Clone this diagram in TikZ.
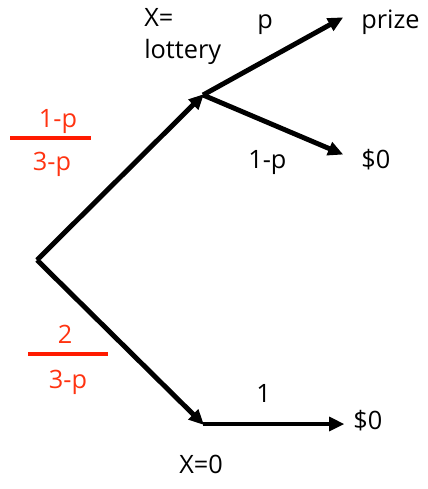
\documentclass[tikz,border=0pt]{standalone}
\usepackage{fontspec}
\setmainfont{Open Sans}
\usepackage{xcolor}
\definecolor{ink}{HTML}{000000}
\definecolor{prob}{HTML}{FF3311}
\definecolor{bar}{HTML}{FF1A00}
\usetikzlibrary{arrows.meta}
\tikzset{
  every picture/.style={font=\fontsize{18}{23}\selectfont},
  branch/.style={-{Triangle[length=3.8mm, width=3.4mm]}, draw=ink, line width=3.5pt, shorten >=-1pt},
  label/.style={text=ink, inner sep=0pt, anchor=base west},
  frac/.style={text=prob, inner sep=0pt, anchor=base},
  fracbar/.style={draw=bar, line width=2.2pt},
}

\begin{document}
\begin{tikzpicture}[x=0.025cm, y=-0.025cm]
  \useasboundingbox (0,0) rectangle (428,489);
  % branching points and arrow tips
  \coordinate (root) at (37,260);
  \coordinate (lot) at (203,95);
  \coordinate (zero) at (203,424);
  \coordinate (prizetip) at (342,18);
  \coordinate (losetip) at (342,154);
  \coordinate (zerotip) at (343,424);
  % tree
  \draw[branch] (root) -- (lot);
  \draw[branch] (root) -- (zero);
  \draw[branch] (lot) -- (prizetip);
  \draw[branch] (lot) -- (losetip);
  \draw[branch] (zero) -- (zerotip);
  % texts
  \node[label, align=left, anchor=north west] (xlot) at (144,8) {X=\\lottery};
  \node[label] (pwin) at (257,28) {p};
  \node[label] (prize) at (361,28) {prize};
  \node[label] (plose) at (248,168) {1-p};
  \node[label] (lose) at (361,168) {\$0};
  \node[label] (one) at (256,402) {1};
  \node[label] (nothing) at (353,429) {\$0};
  \node[label] (xzero) at (179,473) {X=0};
  % branch probabilities
  \node[frac] (upnum) at (58,127) {1-p};
  \draw[fracbar] (10,138) -- (91,138);
  \node[frac] (upden) at (52,170) {3-p};
  \node[frac] (downnum) at (65,343) {2};
  \draw[fracbar] (28,354) -- (108,354);
  \node[frac] (downden) at (68,388) {3-p};
\end{tikzpicture}
\end{document}
